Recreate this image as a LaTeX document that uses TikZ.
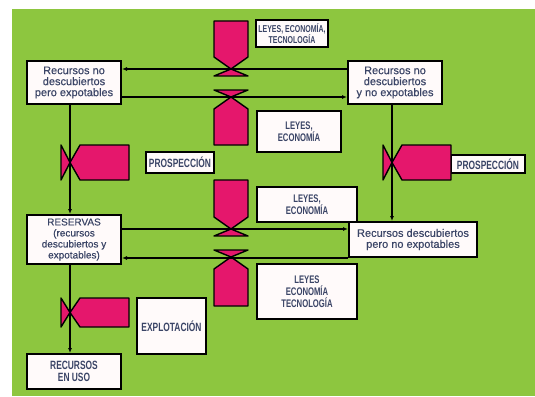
\documentclass[tikz,border=0pt]{standalone}
\usepackage{fontspec}
\setmainfont{Liberation Sans}
\newfontfamily\condfont[FakeStretch=0.7]{Liberation Sans}
\newfontfamily\boxfont[FakeBold=0.4]{Liberation Sans}
\usetikzlibrary{arrows.meta}
\definecolor{bggreen}{RGB}{141,198,63}
\definecolor{valvepink}{RGB}{229,23,108}
\definecolor{txtblue}{RGB}{58,68,102}
\definecolor{boxfill}{RGB}{255,250,250}
\tikzset{
  box/.style={draw=black, line width=2pt, fill=boxfill, text=txtblue, align=center, inner sep=0pt, font=\boxfont\fontsize{11}{11}\selectfont},
  capsbox/.style={box, font=\condfont\bfseries\fontsize{12}{12}\selectfont},
  valve/.style={draw=black, line width=1.4pt, fill=valvepink, line join=round},
  flow/.style={draw=black, line width=1.4pt, -{Latex[length=5pt,width=4pt]}},
}
\begin{document}
\begin{tikzpicture}[x=1pt,y=-1pt]
\useasboundingbox (0,0) rectangle (535,396);
\fill[white] (0,0) rectangle (535,396);
\fill[bggreen] (12,9) rectangle (535,396);

% main boxes
\node[box, minimum width=94pt, minimum height=43pt] (A) at (74,82.5) {Recursos no\\descubiertos\\pero expotables};
\node[box, minimum width=94pt, minimum height=43pt] (B) at (395,82.5) {Recursos no\\descubiertos\\y no expotables};
\node[box, minimum width=94pt, minimum height=49pt, font=\boxfont\fontsize{10}{11}\selectfont] (R) at (74,239.5) {RESERVAS\\(recursos\\descubiertos y\\expotables)};
\node[capsbox, minimum width=94pt, minimum height=35pt] (U) at (74,371.5) {RECURSOS\\EN USO};
\node[box, minimum width=128pt, minimum height=35pt] (C) at (413,239.5) {Recursos descubiertos\\pero no expotables};

% label boxes
\node[capsbox, minimum width=72pt, minimum height=27pt, font=\condfont\bfseries\fontsize{10}{10.5}\selectfont] (L1) at (292,33.5) {LEYES, ECONOMÍA,\\TECNOLOGÍA};
\node[capsbox, minimum width=84pt, minimum height=41pt, font=\condfont\bfseries\fontsize{11}{12}\selectfont] (L2) at (299,131.5) {LEYES,\\ECONOMÍA};
\node[capsbox, minimum width=100pt, minimum height=35pt, font=\condfont\bfseries\fontsize{11}{12}\selectfont] (L3) at (307,204.5) {LEYES,\\ECONOMÍA};
\node[capsbox, minimum width=100pt, minimum height=55pt, font=\condfont\bfseries\fontsize{11}{12}\selectfont] (L4) at (307,291.5) {LEYES\\ECONOMÍA\\TECNOLOGÍA};
\node[capsbox, minimum width=68pt, minimum height=21pt] (P1) at (180,162.5) {PROSPECCIÓN};
\node[capsbox, minimum width=74pt, minimum height=18pt] (P2) at (488,164) {PROSPECCIÓN};
\node[capsbox, minimum width=69pt, minimum height=56pt] (E) at (171.5,326) {EXPLOTACIÓN};

% valves, vertical pairs
\path[valve] (214,21) -- (248,21) -- (248,57) -- (231,69) -- (214,57) -- cycle;
\path[valve] (231,69) -- (248,76) -- (214,76) -- cycle;
\path[valve] (214,90) -- (248,90) -- (231,97) -- cycle;
\path[valve] (231,97) -- (248,109) -- (248,145) -- (214,145) -- (214,109) -- cycle;
\path[valve] (214,180) -- (248,180) -- (248,217) -- (231,229) -- (214,217) -- cycle;
\path[valve] (231,229) -- (248,236) -- (214,236) -- cycle;
\path[valve] (214,250) -- (248,250) -- (231,257) -- cycle;
\path[valve] (231,257) -- (248,269) -- (248,306) -- (214,306) -- (214,269) -- cycle;
% valves, horizontal
\path[valve] (61,145) -- (61,180) -- (70,162.5) -- cycle;
\path[valve] (70,162.5) -- (80,145) -- (129,145) -- (129,180) -- (80,180) -- cycle;
\path[valve] (383,145) -- (383,180) -- (392,162.5) -- cycle;
\path[valve] (392,162.5) -- (402,145) -- (451,145) -- (451,180) -- (402,180) -- cycle;
\path[valve] (61,298) -- (61,327) -- (70,312.5) -- cycle;
\path[valve] (70,312.5) -- (80,298) -- (129,298) -- (129,327) -- (80,327) -- cycle;

% connectors
\draw[flow] ([yshift=13.5pt]B.west) -- ([yshift=13.5pt]A.east);
\draw[flow] ([yshift=-14.5pt]A.east) -- ([yshift=-14.5pt]B.west);
\draw[flow] ([xshift=-4pt]A.south) -- ([xshift=-4pt]A.south |- R.north);
\draw[flow] ([xshift=-3pt]B.south) -- ([xshift=-3pt]B.south |- C.north);
\draw[flow] ([yshift=10.5pt]R.east) -- ([yshift=10.5pt]R.east -| C.west);
\draw[flow] (C.south west) -- (C.south west -| R.east);
\draw[flow] ([xshift=-4pt]R.south) -- ([xshift=-4pt]R.south |- U.north);
\end{tikzpicture}
\end{document}
